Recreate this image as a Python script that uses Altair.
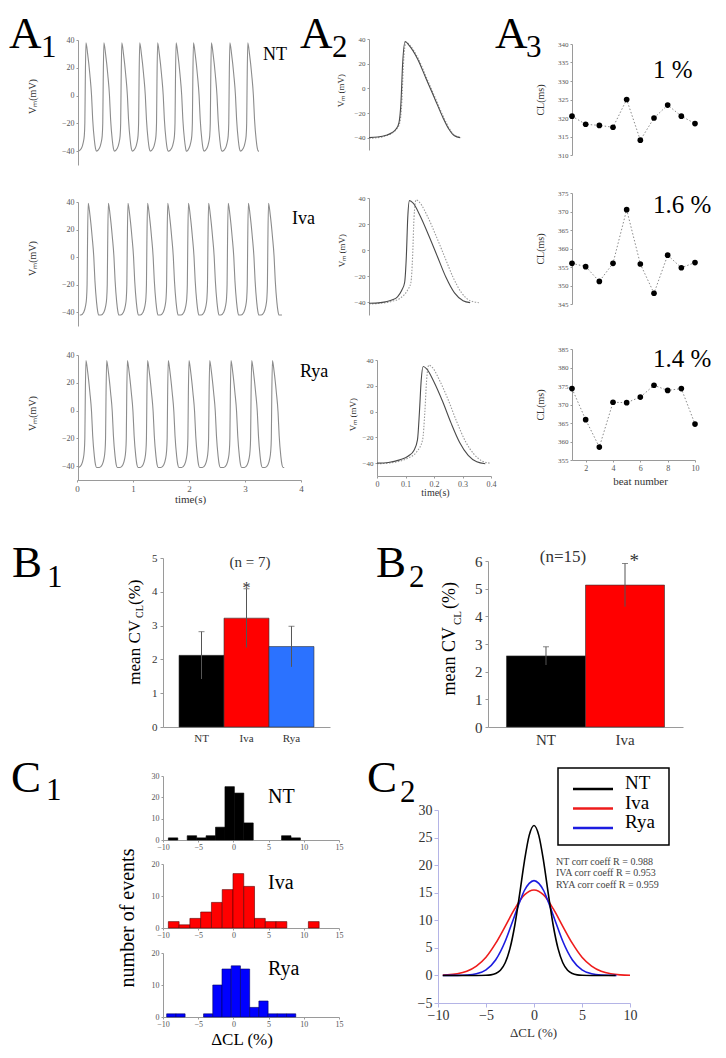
import altair as alt
import pandas as pd

# ======================= data =======================
# A1: peak times (s) of the ten spontaneous action potentials
a1_peaks_nt = [0.16, 0.48, 0.80, 1.12, 1.44, 1.77, 2.08, 2.40, 2.73, 3.05]
a1_peaks_iva = [0.20, 0.56, 0.91, 1.26, 1.62, 1.99, 2.35, 2.70, 3.06, 3.42]
a1_peaks_rya = [0.16, 0.53, 0.90, 1.26, 1.63, 2.00, 2.37, 2.75, 3.12, 3.49]
a1_trace_start = [0.03, 0.05, 0.03]
a1_trace_end = [3.25, 3.66, 3.70]
# one beat, time relative to its peak (s) and membrane potential (mV)
ap_offsets = [-0.13, -0.08, -0.05, -0.03, -0.02, -0.012, 0.0, 0.03, 0.07, 0.10, 0.12, 0.15, 0.17, 0.19]
ap_nt_mv = [-40, -38, -34, -29, -20, 10, 38, 30, 15, 0, -17, -32, -38, -40]
ap_iva_mv = [-42, -40, -36, -30, -20, 10, 39, 31, 15, 0, -17, -33, -39.5, -42]
ap_rya_mv = [-41, -39, -35, -29, -20, 10, 36, 28, 13, -1, -18, -33, -39, -41]

# A2: superimposed single action potentials (solid and dotted trace)
a2_nt_t = [0.0, 0.03, 0.06, 0.08, 0.095, 0.105, 0.112, 0.118, 0.127, 0.14, 0.17, 0.20, 0.23, 0.26, 0.28, 0.30, 0.32]
a2_nt_v = [-40, -39.5, -38, -36, -33, -28, -12, 20, 38, 35, 24, 8, -8, -24, -33, -38.5, -40]
a2_nt2_t = [0.0, 0.03, 0.06, 0.08, 0.097, 0.108, 0.115, 0.121, 0.13, 0.143, 0.173, 0.203, 0.233, 0.263, 0.283, 0.303, 0.323]
a2_nt2_v = [-40.5, -40, -38.5, -36.5, -33, -28, -12, 20, 37.5, 35, 24, 8, -8, -24, -33, -38.5, -40]
a2_iva_t = [0.0, 0.04, 0.08, 0.10, 0.115, 0.125, 0.131, 0.136, 0.142, 0.155, 0.18, 0.21, 0.24, 0.27, 0.30, 0.33, 0.355]
a2_iva_v = [-41, -40.5, -38.5, -36, -31, -25, -5, 25, 38, 36, 26, 11, -5, -21, -33, -39, -40.5]
a2_iva2_t = [0.0, 0.04, 0.08, 0.11, 0.135, 0.147, 0.153, 0.158, 0.165, 0.178, 0.205, 0.235, 0.265, 0.295, 0.325, 0.355, 0.385]
a2_iva2_v = [-41.5, -41, -39.5, -37, -31, -25, -5, 25, 38.5, 36.5, 26, 11, -5, -21, -33, -39, -40.5]
a2_rya_t = [0.0, 0.04, 0.08, 0.11, 0.13, 0.142, 0.149, 0.155, 0.162, 0.175, 0.20, 0.23, 0.26, 0.29, 0.32, 0.35, 0.38]
a2_rya_v = [-40, -39.5, -37.5, -34.5, -30, -22, 0, 24, 35, 33, 23, 8, -9, -24, -34, -39, -40.5]
a2_rya2_t = [0.0, 0.04, 0.08, 0.11, 0.14, 0.16, 0.168, 0.174, 0.182, 0.195, 0.22, 0.25, 0.28, 0.31, 0.34, 0.37, 0.395]
a2_rya2_v = [-40.5, -40, -38.5, -36, -31, -22, 0, 24, 36, 34, 24, 9, -8, -23, -33, -38.5, -40]

# A3: cycle length per beat (ms)
beats = [1, 2, 3, 4, 5, 6, 7, 8, 9, 10]
a3_nt = [320.5, 318.3, 318.0, 317.5, 325.0, 314.0, 320.0, 323.5, 320.5, 318.5]
a3_iva = [356.0, 355.1, 351.1, 356.0, 370.5, 355.8, 347.9, 358.2, 354.8, 356.2]
a3_rya = [374.3, 365.9, 358.5, 370.6, 370.5, 372.0, 375.2, 373.8, 374.3, 364.7]
a3_cv = ["1 %", "1.6 %", "1.4 %"]

# B1 / B2: mean CV of CL (%) with error
b1_groups = ["NT", "Iva", "Rya"]
b1_mean = [2.12, 3.22, 2.38]
b1_err = [0.70, 0.87, 0.60]
b2_groups = ["NT", "Iva"]
b2_mean = [2.57, 5.13]
b2_err = [0.33, 0.78]

# C1: histograms of delta CL (%)
c1_nt_edges = [-9.24, -7.90, -6.56, -5.22, -3.88, -2.54, -1.20, 0.14, 1.48, 2.82, 4.16, 5.50, 6.84, 8.18, 9.52]
c1_nt_counts = [1, 0, 2, 1, 2, 6, 25, 22, 8, 0, 0, 0, 2, 1]
c1_iva_edges = [-9.24, -7.71, -6.18, -4.65, -3.12, -1.59, -0.06, 1.47, 3.00, 4.53, 6.06, 7.59, 9.12, 10.65, 12.18]
c1_iva_counts = [2, 1, 3, 5, 8, 12, 17, 13, 3, 2, 2, 0, 0, 2]
c1_rya_edges = [-9.48, -8.17, -6.86, -5.55, -4.24, -2.93, -1.62, -0.31, 1.00, 2.31, 3.62, 4.93, 6.24, 7.55, 8.86]
c1_rya_counts = [1, 1, 0, 0, 1, 10, 15, 16, 15, 3, 5, 1, 1, 1]

# C2: fitted distributions
c2_nt_x = [-9.5, -6, -5, -4.5, -4, -3.5, -3, -2.5, -2, -1.5, -1, -0.5, 0, 0.5, 1, 1.5, 2, 2.5, 3, 3.5, 4, 4.5, 5, 6, 8.5]
c2_nt_y = [0, 0, 0.03, 0.1, 0.34, 0.94, 2.3, 4.9, 9.1, 14.7, 20.7, 25.4, 27.2, 25.4, 20.7, 14.7, 9.1, 4.9, 2.3, 0.94, 0.34, 0.1, 0.03, 0, 0]
c2_iva_x = [-9.5, -9, -8, -7, -6, -5, -4, -3, -2, -1, 0, 1, 2, 3, 4, 5, 6, 7, 8, 9, 10]
c2_iva_y = [0.06, 0.1, 0.3, 0.76, 1.7, 3.3, 5.8, 8.9, 12.1, 14.6, 15.5, 14.6, 12.1, 8.9, 5.8, 3.3, 1.7, 0.76, 0.3, 0.1, 0.02]
c2_rya_x = [-9.5, -8, -7, -6, -5, -4, -3, -2.5, -2, -1.5, -1, -0.5, 0, 0.5, 1, 1.5, 2, 2.5, 3, 4, 5, 6, 7, 8.6]
c2_rya_y = [0, 0.01, 0.07, 0.3, 1.0, 2.8, 6.2, 8.5, 10.9, 13.3, 15.4, 16.7, 17.2, 16.7, 15.4, 13.3, 10.9, 8.5, 6.2, 2.8, 1.0, 0.3, 0.07, 0]
c2_series = ["NT", "Iva", "Rya"]
c2_corr = ["NT corr coeff R = 0.988", "IVA corr coeff R = 0.953", "RYA corr coeff R = 0.959"]

# ======================= layout helpers =======================
SERIF = "Liberation Serif"
W, H, M = 710, 1042, 8


def px(v):
    return v - M


def lin(domain, r0, r1):
    return alt.Scale(domain=domain, range=[px(r0), px(r1)], nice=False, zero=False)


def yax(x_ref, values=None, title=None, tx=None, ty=None, lsize=8, lcolor="#555555",
        dcolor="#9a9a9a", tsize=10, tick=2, pad=2, ticks=True):
    kw = dict(orient="left", offset=-px(x_ref), grid=False, labelFontSize=lsize,
              labelColor=lcolor, labelFont=SERIF, domainColor=dcolor, tickColor=dcolor,
              tickSize=tick, labelPadding=pad, ticks=ticks)
    if values is not None:
        kw["values"] = values
    if title is None:
        kw["title"] = None
    else:
        kw.update(title=title, titleX=tx - x_ref, titleY=px(ty), titleFontSize=tsize,
                  titleFont=SERIF, titleFontWeight="normal", titleColor="#333333",
                  titleAngle=270, titleAlign="center", titleBaseline="middle")
    return alt.Axis(**kw)


def xax(y_ref, values=None, title=None, tx=None, ty=None, lsize=8, lcolor="#555555",
        dcolor="#9a9a9a", tsize=10, tick=2, pad=2, ticks=True, fmt=None):
    kw = dict(orient="bottom", offset=px(y_ref) - H, grid=False, labelFontSize=lsize,
              labelColor=lcolor, labelFont=SERIF, domainColor=dcolor, tickColor=dcolor,
              tickSize=tick, labelPadding=pad, ticks=ticks, labelAngle=0)
    if values is not None:
        kw["values"] = values
    if fmt:
        kw["format"] = fmt
    if title is None:
        kw["title"] = None
    else:
        kw.update(title=title, titleX=px(tx), titleY=ty - y_ref, titleFontSize=tsize,
                  titleFont=SERIF, titleFontWeight="normal", titleColor="#333333",
                  titleAngle=0, titleAlign="center", titleBaseline="middle")
    return alt.Axis(**kw)


def label(text, x, y, size, align="left", baseline="alphabetic", angle=None, color="#000000"):
    kw = dict(align=align, baseline=baseline, fontSize=size, font=SERIF, color=color)
    if angle is not None:
        kw["angle"] = angle
    return alt.Chart(pd.DataFrame({"s": [text]})).mark_text(**kw).encode(
        x=alt.value(px(x)), y=alt.value(px(y)), text="s:N")


layers = []

# ---------------- A1 ----------------
def trace(peaks, shape, t0, t1):
    ts, vs = [t0], [shape[0]]
    for p in peaks:
        for o, v in zip(ap_offsets, shape):
            ts.append(round(p + o, 4))
            vs.append(v)
    ts.append(t1)
    vs.append(shape[-1])
    return pd.DataFrame({"t": ts, "v": vs}).drop_duplicates("t").sort_values("t")


a1_specs = [
    (a1_peaks_nt, ap_nt_mv, 0, 40, 165, 96, False),
    (a1_peaks_iva, ap_iva_mv, 1, 202, 326, 258, False),
    (a1_peaks_rya, ap_rya_mv, 2, 355, 480, 413, True),
]
for peaks, shape, i, ytop, ybot, tyc, show_x in a1_specs:
    df = trace(peaks, shape, a1_trace_start[i], a1_trace_end[i])
    xa = xax(480, [0, 1, 2, 3, 4], "time(s)", 190, 499, lsize=9, tsize=11) if show_x else None
    layers.append(alt.Chart(df).mark_line(color="#8c8c8c", strokeWidth=1.1, interpolate="monotone").encode(
        x=alt.X("t:Q", scale=lin([0, 4], 77, 301), axis=xa),
        y=alt.Y("v:Q", scale=lin([-50, 40], ybot, ytop),
                axis=yax(78, [-40, -20, 0, 20, 40], "Vₘ(mV)", 32, tyc))))

# ---------------- A2 ----------------
a2_specs = [
    (a2_nt_t, a2_nt_v, a2_nt2_t, a2_nt2_v, 369, 39, 150, 340, 90, False),
    (a2_iva_t, a2_iva_v, a2_iva2_t, a2_iva2_v, 369, 198, 315, 341, 250, False),
    (a2_rya_t, a2_rya_v, a2_rya2_t, a2_rya2_v, 377, 360, 476, 352, 414, True),
]
for st, sv, dt, dv, x0, ytop, ybot, tx, tyc, show_x in a2_specs:
    xa = xax(476, [0, 0.1, 0.2, 0.3, 0.4], "time(s)", 435, 492, lsize=8, tsize=10, fmt="~g") if show_x else None
    layers.append(alt.Chart(pd.DataFrame({"t": dt, "v": dv})).mark_line(
        color="#9a9a9a", strokeWidth=1.1, strokeDash=[1.5, 1.5], interpolate="monotone").encode(
        x=alt.X("t:Q", scale=lin([0, 0.4], x0, x0 + 114), axis=None),
        y=alt.Y("v:Q", scale=lin([-50, 40], ybot, ytop), axis=None)))
    layers.append(alt.Chart(pd.DataFrame({"t": st, "v": sv})).mark_line(
        color="#4a4a4a", strokeWidth=1.1, interpolate="monotone").encode(
        x=alt.X("t:Q", scale=lin([0, 0.4], x0, x0 + 114), axis=xa),
        y=alt.Y("v:Q", scale=lin([-50, 40], ybot, ytop),
                axis=yax(x0, [-40, -20, 0, 20, 40], "Vₘ (mV)", tx, tyc, lsize=7, tsize=9))))

# ---------------- A3 ----------------
a3_specs = [
    (a3_nt, [310, 340], 44, 155, list(range(310, 341, 5)), False),
    (a3_iva, [345, 375], 193, 304, list(range(345, 376, 5)), False),
    (a3_rya, [355, 385], 349, 460, list(range(355, 386, 5)), True),
]
for vals, dom, ytop, ybot, ticks, show_x in a3_specs:
    df = pd.DataFrame({"beat": beats, "cl": vals})
    xa = xax(460, [2, 4, 6, 8, 10], "beat number", 640, 481, lsize=8, tsize=11) if show_x else None
    layers.append(alt.Chart(df).mark_line(color="#8a8a8a", strokeWidth=1, strokeDash=[1.5, 2]).encode(
        x=alt.X("beat:Q", scale=lin([1, 10], 572, 695), axis=xa),
        y=alt.Y("cl:Q", scale=lin(dom, ybot, ytop),
                axis=yax(572, ticks, "CL(ms)", 540, (ytop + ybot) / 2, lsize=7, tsize=10))))
    layers.append(alt.Chart(df).mark_circle(color="#000000", size=32, opacity=1).encode(
        x=alt.X("beat:Q", scale=lin([1, 10], 572, 695), axis=None),
        y=alt.Y("cl:Q", scale=lin(dom, ybot, ytop), axis=None)))


# ---------------- B1 / B2 ----------------
def bar_panel(groups, means, errs, colors, x0, x1, pad_outer, ybot, ytop, ymax, lsize, star_size):
    df = pd.DataFrame({"g": groups, "m": means, "e": errs})

    def xs():
        return alt.Scale(domain=groups, range=[px(x0), px(x1)], paddingInner=0, paddingOuter=pad_outer)

    def ys():
        return lin([0, ymax], ybot, ytop)

    base = alt.Chart(df).transform_calculate(lo="datum.m - datum.e", hi="datum.m + datum.e")
    out = [base.mark_bar(stroke="#333333", strokeWidth=0.6).encode(
        x=alt.X("g:N", sort=groups, scale=xs(),
                axis=xax(ybot, None, lsize=lsize, lcolor="#333333", ticks=False, pad=5)),
        y=alt.Y("m:Q", scale=ys(),
                axis=yax(x0, list(range(0, ymax + 1)), lsize=lsize, lcolor="#333333", tick=3, pad=3)),
        color=alt.Color("g:N", scale=alt.Scale(domain=groups, range=colors), legend=None))]
    out.append(base.mark_rule(color="#555555", strokeWidth=1).encode(
        x=alt.X("g:N", sort=groups, scale=xs(), axis=None),
        y=alt.Y("lo:Q", scale=ys(), axis=None), y2="hi:Q"))
    out.append(base.mark_tick(color="#555555", size=6, thickness=1).encode(
        x=alt.X("g:N", sort=groups, scale=xs(), axis=None),
        y=alt.Y("hi:Q", scale=ys(), axis=None)))
    out.append(base.transform_filter(alt.datum.g == "Iva").mark_text(
        text="*", fontSize=star_size, font=SERIF, baseline="alphabetic", dy=4, color="#333333").encode(
        x=alt.X("g:N", sort=groups, scale=xs(), axis=None),
        y=alt.Y("hi:Q", scale=ys(), axis=None)))
    return out


layers.extend(bar_panel(b1_groups, b1_mean, b1_err, ["#000000", "#ff0000", "#2b72ff"],
                        163, 330, 0.356, 727, 558, 5, 11, 16))
layers.extend(bar_panel(b2_groups, b2_mean, b2_err, ["#000000", "#ff0000"],
                        488, 683, 0.234, 727, 561, 6, 15, 19))


# ---------------- C1 ----------------
def hist_panel(edges, counts, ytop, ybot, ymax, yticks, fill, stroke):
    df = pd.DataFrame({"x0": edges[:-1], "x1": edges[1:], "n": counts})
    df = df[df["n"] > 0]
    return alt.Chart(df).mark_bar(color=fill, stroke=stroke, strokeWidth=0.6).encode(
        x=alt.X("x0:Q", scale=lin([-10, 15], 163, 339),
                axis=xax(ybot, [-10, -5, 0, 5, 10, 15], lsize=8, pad=1)),
        x2="x1:Q",
        y=alt.Y("n:Q", scale=lin([0, ymax], ybot, ytop), axis=yax(163, yticks, lsize=8)),
        y2=alt.datum(0))


layers.append(hist_panel(c1_nt_edges, c1_nt_counts, 776, 840, 30, [0, 10, 20, 30], "#000000", "#000000"))
layers.append(hist_panel(c1_iva_edges, c1_iva_counts, 864, 928, 20, [0, 10, 20], "#ff0000", "#5a0000"))
layers.append(hist_panel(c1_rya_edges, c1_rya_counts, 953, 1017, 20, [0, 10, 20], "#0000ff", "#000060"))

# ---------------- C2 ----------------
c2_df = pd.concat([
    pd.DataFrame({"s": "Iva", "x": c2_iva_x, "y": c2_iva_y}),
    pd.DataFrame({"s": "Rya", "x": c2_rya_x, "y": c2_rya_y}),
    pd.DataFrame({"s": "NT", "x": c2_nt_x, "y": c2_nt_y}),
], ignore_index=True)


def c2_colors():
    return alt.Scale(domain=c2_series, range=["#000000", "#ee1c1c", "#1c1ce0"])


LAV = "#b4b4e6"
layers.append(alt.Chart(c2_df).mark_line(strokeWidth=1.6, interpolate="monotone").encode(
    x=alt.X("x:Q", scale=lin([-10, 10], 438, 630),
            axis=xax(1003, [-10, -5, 0, 5, 10], "ΔCL (%)", 533, 1032, lsize=14, lcolor="#333333",
                     dcolor=LAV, tsize=13, tick=4, pad=1)),
    y=alt.Y("y:Q", scale=lin([-5, 30], 1003, 810),
            axis=yax(438, [-5, 0, 5, 10, 15, 20, 25, 30], lsize=14, lcolor="#333333", dcolor=LAV, tick=4, pad=2)),
    color=alt.Color("s:N", scale=c2_colors(), legend=None)))

# legend box drawn from the series names
leg_df = pd.DataFrame({"s": c2_series})


def leg_y():
    return alt.Y("s:N", sort=c2_series,
                  scale=alt.Scale(type="point", domain=c2_series, range=[px(789), px(828)], padding=0),
                  axis=None)


layers.append(alt.Chart(pd.DataFrame({"a": [0]})).mark_rect(fill="white", stroke="#000000", strokeWidth=1.5).encode(
    x=alt.value(px(558)), x2=alt.value(px(669)), y=alt.value(px(768)), y2=alt.value(px(845))))
layers.append(alt.Chart(leg_df).mark_rule(strokeWidth=2.4).encode(
    x=alt.value(px(573)), x2=alt.value(px(613)), y=leg_y(),
    color=alt.Color("s:N", scale=c2_colors(), legend=None)))
layers.append(alt.Chart(leg_df).mark_text(align="left", baseline="alphabetic", fontSize=19, font=SERIF,
                                          color="#000000").encode(
    x=alt.value(px(625)), y=leg_y(), text="s:N"))

# ---------------- text annotations ----------------
texts = []
# panel letters
for big, sub, x, y, xs_, ys_ in [("A", "1", 9, 48, 41, 57), ("A", "2", 300, 48, 332, 57),
                                  ("A", "3", 495, 48, 526, 57), ("B", "1", 12, 577, 47, 587),
                                  ("B", "2", 376, 577, 409, 587), ("C", "1", 11, 792, 46, 800),
                                  ("C", "2", 367, 792, 400, 802)]:
    texts.append(label(big, x, y, 45))
    texts.append(label(sub, xs_, ys_, 31))
# A1 trace names
texts.append(label("NT", 263, 60, 18))
texts.append(label("Iva", 292, 224, 18))
texts.append(label("Rya", 300, 377, 18))
# A3 CV values
for t, y in zip(a3_cv, [78, 213, 367]):
    texts.append(label(t, 653, y, 25))
# B titles
texts.append(label("(n = 7)", 250, 562, 15, align="center", baseline="middle", color="#333333"))
texts.append(label("(n=15)", 563, 557, 17, align="center", baseline="middle", color="#333333"))
texts.append(label("mean CV", 135, 620, 17, align="right", baseline="middle", angle=270))
texts.append(label("CL", 140, 618, 10, align="left", baseline="middle", angle=270))
texts.append(label("(%)", 135, 605, 17, align="left", baseline="middle", angle=270))
texts.append(label("mean CV", 450, 627, 18, align="right", baseline="middle", angle=270))
texts.append(label("CL", 458, 625, 11, align="left", baseline="middle", angle=270))
texts.append(label("(%)", 450, 609, 18, align="left", baseline="middle", angle=270))
# C1 texts
texts.append(label("NT", 268, 803, 20))
texts.append(label("Iva", 268, 889, 20))
texts.append(label("Rya", 268, 975, 20))
texts.append(label("number of events", 128, 918, 20, align="center", baseline="middle", angle=270))
texts.append(label("ΔCL (%)", 242, 1040, 17, align="center", baseline="middle"))
# C2 correlation notes
for t, y in zip(c2_corr, [862, 873, 885]):
    texts.append(label(t, 556, y, 10, baseline="middle", color="#444444"))

layers.extend(texts)

chart = alt.layer(*layers).resolve_scale(
    x="independent", y="independent", color="independent"
).properties(
    width=W, height=H, autosize=alt.AutoSizeParams(type="none"), padding=0
).configure_view(strokeWidth=0).configure_axis(
    labelFlush=False, labelOverlap=False, labelBound=False
)

chart.save("out.html", embed_options={"renderer": "svg", "actions": False})
